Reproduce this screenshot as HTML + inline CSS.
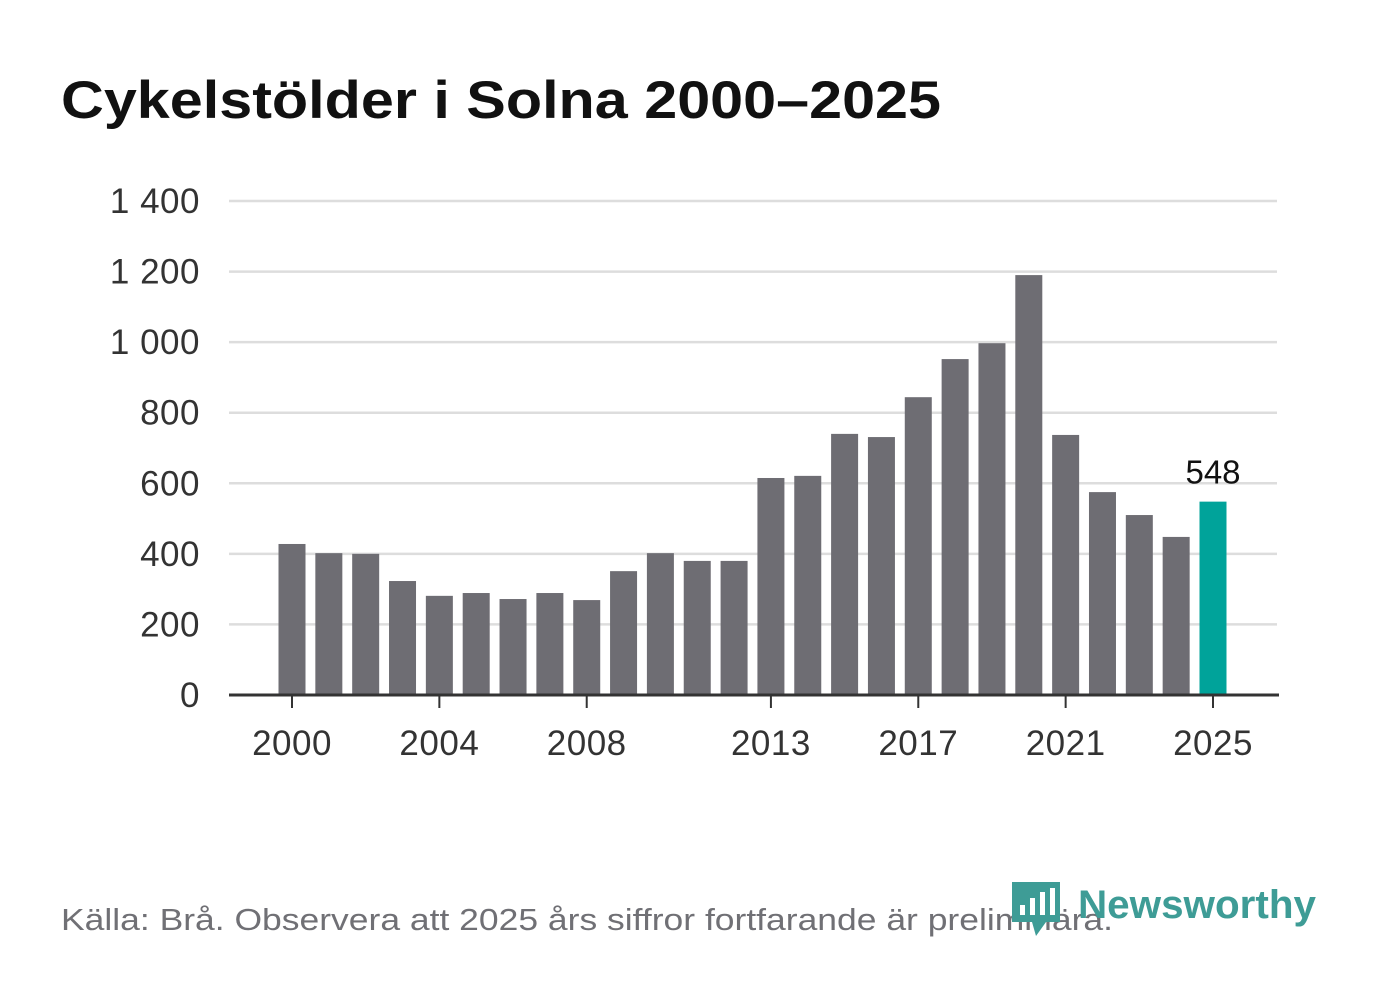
<!DOCTYPE html>
<html><head><meta charset="utf-8"><style>
body{margin:0;background:#fff;width:1382px;height:999px;overflow:hidden;font-family:"Liberation Sans",sans-serif}
</style></head><body>
<svg width="1382" height="999" id="svg" xmlns="http://www.w3.org/2000/svg">
<text x="61" y="118" font-size="53" font-weight="bold" fill="#111" textLength="880" lengthAdjust="spacingAndGlyphs">Cykelstölder i Solna 2000–2025</text>
<g id="grid"></g><g id="bars"></g><g id="xaxis"></g>
<text x="61" y="930" font-size="31" fill="#707075" textLength="1052" lengthAdjust="spacingAndGlyphs">Källa: Brå. Observera att 2025 års siffror fortfarande är preliminära.</text>
<g>
<path d="M1012 882 h48 v40 h-14 l-10 14 l-4 -14 h-20 z" fill="#3e9c96"/>
<rect x="1020" y="905" width="5" height="10" fill="#fff"/><rect x="1030" y="898" width="5" height="17" fill="#fff"/><rect x="1040" y="892" width="5" height="23" fill="#fff"/><rect x="1050" y="888" width="5" height="27" fill="#fff"/>
<text x="1078" y="918" font-size="40" font-weight="bold" fill="#3e9c96" textLength="238" lengthAdjust="spacingAndGlyphs">Newsworthy</text>
</g>
</svg>
<script>
const years=[2000,2001,2002,2003,2004,2005,2006,2007,2008,2009,2010,2011,2012,2013,2014,2015,2016,2017,2018,2019,2020,2021,2022,2023,2024,2025];
const values=[428,402,400,323,281,289,272,289,269,351,402,380,380,615,621,740,731,844,952,997,1190,737,575,510,448,548];
const yTicks=[0,200,400,600,800,1000,1200,1400];
const yTickLabels=["0","200","400","600","800","1 000","1 200","1 400"];
const xTickYears=[2000,2004,2008,2013,2017,2021,2025];
const NS="http://www.w3.org/2000/svg";
const y=v=>695-v*(494/1400);
const x=yr=>292+(yr-2000)*(921/25);
function mk(t,a,p){const e=document.createElementNS(NS,t);for(const k in a)e.setAttribute(k,a[k]);p.appendChild(e);return e;}
const grid=document.getElementById('grid');
yTicks.forEach((v,i)=>{
 if(v>0){const l=mk('line',{x1:229,x2:1277,y1:y(v),y2:y(v),stroke:'#dddddd','stroke-width':2.5},grid);
 
 }
 const t=mk('text',{x:200,y:y(v)+12,'font-size':35,'text-anchor':'end',fill:'#333','letter-spacing':'0.5'},grid);t.textContent=yTickLabels[i];
 
 
});
const bars=document.getElementById('bars');
years.forEach((yr,i)=>{
 const last=i===years.length-1;
 const r=mk('rect',{x:x(yr)-13.5,y:y(values[i]),width:27,height:695-y(values[i]),fill:last?'#00a39a':'#6e6d73'},bars);
 
 
 if(last){const t=mk('text',{x:x(yr),y:y(values[i])-18,'font-size':33,'text-anchor':'middle',fill:'#111'},bars);t.textContent=values[i];
 
 }
});
const xa=document.getElementById('xaxis');
const ax=mk('line',{x1:229,x2:1279,y1:695,y2:695,stroke:'#333','stroke-width':3},xa);


xTickYears.forEach(yr=>{
 mk('line',{x1:x(yr),x2:x(yr),y1:695,y2:708,stroke:'#333','stroke-width':2},xa);
 const t=mk('text',{x:x(yr),y:755,'font-size':35,'text-anchor':'middle',fill:'#333','letter-spacing':'0.5'},xa);t.textContent=yr;
 
 
});
</script>
</body></html>
